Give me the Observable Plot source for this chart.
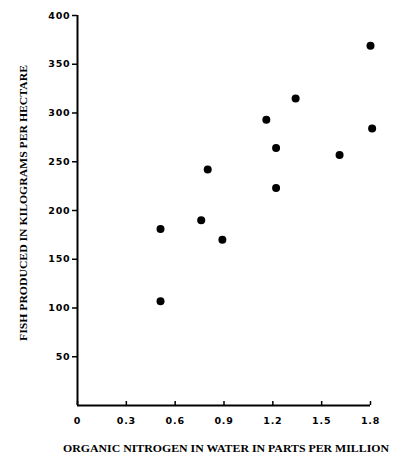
<!DOCTYPE html>
<html>
<head>
<meta charset="utf-8">
<script src="https://cdn.jsdelivr.net/npm/d3@7"></script>
<script src="https://cdn.jsdelivr.net/npm/@observablehq/plot@0.6"></script>
<style>
  html, body { margin: 0; padding: 0; background: #fff; }
  #chart svg { display: block; }
</style>
</head>
<body>
<div id="chart"></div>
<script>
const nitrogen = [1.80, 1.34, 1.16, 1.81, 1.22, 1.61, 0.80, 1.22, 0.76, 0.51, 0.89, 0.51];
const fish     = [369, 315, 293, 284, 264, 257, 242, 223, 190, 181, 170, 107];
const xTicks = [0, 0.3, 0.6, 0.9, 1.2, 1.5, 1.8];
const yTicks = [50, 100, 150, 200, 250, 300, 350, 400];
const xLabel = "ORGANIC NITROGEN IN WATER IN PARTS PER MILLION";
const yLabel = "FISH PRODUCED IN KILOGRAMS PER HECTARE";

const data = nitrogen.map((x, i) => ({x, y: fish[i]}));

const chart = Plot.plot({
  width: 400,
  height: 463,
  marginLeft: 77,
  marginRight: 30,
  marginTop: 15,
  marginBottom: 58,
  style: {fontFamily: "DejaVu Sans", fontSize: "10px", color: "#000", background: "#fff"},
  x: {domain: [0, 1.8]},
  y: {domain: [0, 400]},
  marks: [
    Plot.axisX(xTicks, {
      tickSize: 4, tickPadding: 8, strokeWidth: 1.5,
      tickFormat: d => d === 0 ? "0" : d.toFixed(1),
      fontSize: 9.5, fontWeight: "bold", label: null
    }),
    Plot.axisY(yTicks, {
      tickSize: 5, tickPadding: 2, strokeWidth: 1.5,
      fontSize: 9.5, fontWeight: "bold", label: null
    }),
    Plot.ruleX([0], {strokeWidth: 2}),
    Plot.ruleY([0], {strokeWidth: 2}),
    Plot.dot(data, {x: "x", y: "y", r: 4, fill: "#000", stroke: null})
  ]
});

const svg = d3.select(chart);
// x ticks point upward (inside) like the original
svg.selectAll("[aria-label='x-axis tick'] path").attr("d", "M0,0L0,-4");
svg.selectAll("[aria-label='x-axis tick label'] text, [aria-label='y-axis tick label'] text")
  .style("letter-spacing", "0.8px");

// axis titles as real text
svg.append("text")
  .attr("x", 226).attr("y", 452)
  .attr("text-anchor", "middle")
  .attr("font-family", "Liberation Serif").attr("font-weight", "bold").attr("font-size", 10.5)
  .attr("textLength", 326).attr("lengthAdjust", "spacingAndGlyphs")
  .text(xLabel);
svg.append("text")
  .attr("transform", "translate(27,203) rotate(-90)")
  .attr("text-anchor", "middle")
  .attr("font-family", "Liberation Serif").attr("font-weight", "bold").attr("font-size", 10.5)
  .attr("textLength", 276).attr("lengthAdjust", "spacingAndGlyphs")
  .text(yLabel);

document.getElementById("chart").appendChild(chart);
</script>
</body>
</html>
